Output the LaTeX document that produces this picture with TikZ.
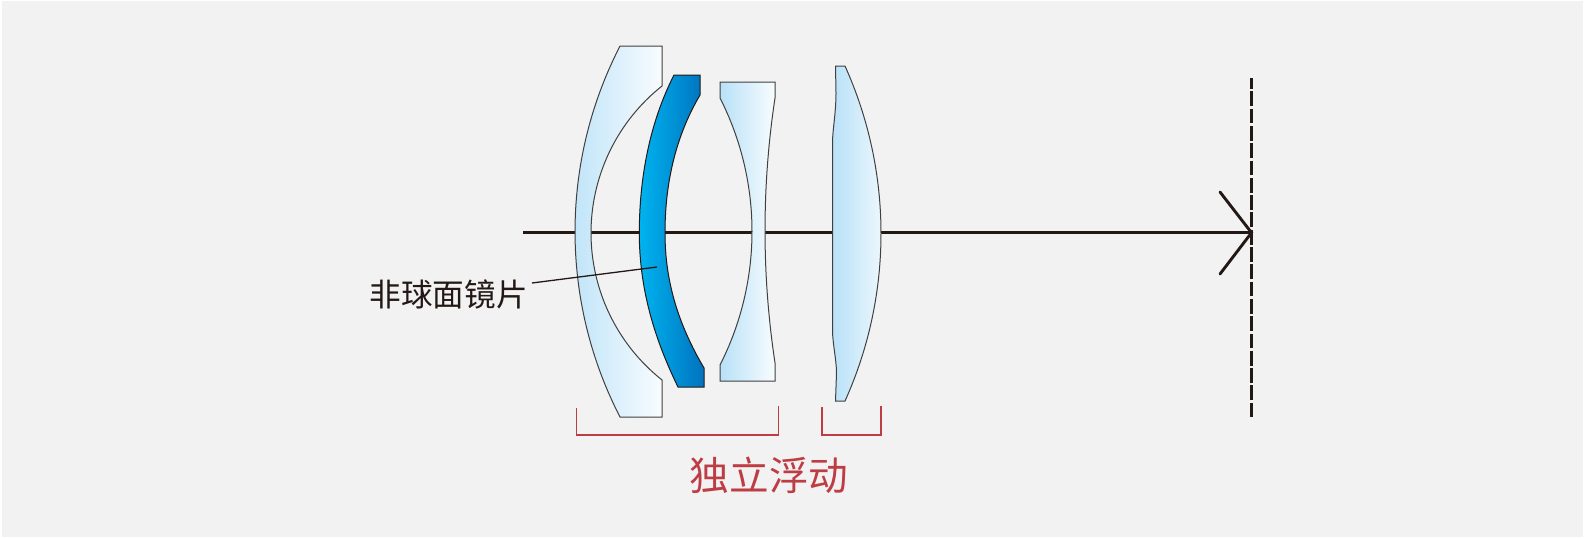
\documentclass[tikz,border=0pt]{standalone}
\usepackage{fontspec}
\newfontfamily\cjk{Noto Sans CJK SC}
\definecolor{bgGray}{HTML}{F2F2F2}
\definecolor{inkDark}{HTML}{231815}
\definecolor{markRed}{HTML}{BE3C44}
\definecolor{glassL}{HTML}{B8E1F8}
\definecolor{glassR}{HTML}{F8FCFE}
\definecolor{asphL}{HTML}{00B4F0}
\definecolor{asphM}{HTML}{009FE3}
\definecolor{asphR}{HTML}{0073BE}
\tikzset{
  glass/.style={draw=black!75,line width=0.5pt,left color=glassL,right color=glassR},
  asph/.style={draw=inkDark,line width=0.5pt,left color=asphL,middle color=asphM,right color=asphR},
  axisline/.style={draw=inkDark,line width=1.45pt},
  bracket/.style={draw=markRed,line width=0.9pt}
}
\begin{document}
\begin{tikzpicture}[x=0.5pt,y=0.5pt,line cap=butt,line join=miter]
  \useasboundingbox (0,0) rectangle (1584,538);
  \fill[white] (0,0) rectangle (1584,538);
  \fill[bgGray] (2,1) rectangle (1583,537);
  \coordinate (AxisL) at (523,305.3);
  \coordinate (Focus) at (1251.5,305.3);
  \coordinate (WingU) at (1220,346);
  \coordinate (WingD) at (1220,264);
  \coordinate (PlaneT) at (1251.5,460);
  \coordinate (PlaneB) at (1251.5,121);
  \draw[axisline] (AxisL) -- (Focus);
  \draw[axisline,line cap=round] (WingU) -- (Focus) -- (WingD);
  \draw[inkDark,line width=1.4pt,dash pattern=on 7.4pt off 1.25pt,dash phase=2pt] (PlaneT) -- (PlaneB);
  % front meniscus
  \path[glass] (620,492) -- (662,492) -- (662,452)
    arc[start angle=128.45, end angle=231.55, radius=187.7]
    -- (662,121) -- (620,121)
    arc[start angle=207.27, end angle=152.73, radius=404.8] -- cycle;
  % aspherical element
  \path[asph] (674,463) -- (700,463) -- (700,443)
    .. controls (674,399) and (665,351) .. (665,305)
    .. controls (665,257) and (678,214) .. (704,170)
    -- (704,151) -- (678,151)
    .. controls (654,200) and (639.3,250) .. (639.3,305)
    .. controls (639.3,361) and (650,416) .. (674,463) -- cycle;
  % middle element
  \path[glass] (720,456) -- (775,456) -- (775,440)
    arc[start angle=171.37, end angle=188.63, radius=882.8]
    -- (775,157) -- (720,157) -- (720,173)
    arc[start angle=-26.96, end angle=26.96, radius=294.5] -- cycle;
  % rear element
  \path[glass] (835.5,472) -- (845,472)
    arc[start angle=24.26, end angle=-24.26, radius=407.7]
    -- (835.5,137) -- (836.5,165) .. controls (836.5,178) and (832.5,195) .. (832.5,208)
    -- (832.5,395) .. controls (832.5,408) and (836,425) .. (836,445) -- cycle;
  % leader
  \node[inkDark,font=\cjk\fontsize{15.8pt}{15.8pt}\selectfont,anchor=east,inner sep=0pt] (asphLabel) at (528,244) {非球面镜片};
  \coordinate (LeadA) at (532,255);
  \coordinate (LeadB) at (657,271);
  \draw[inkDark,line width=0.65pt] (LeadA) -- (LeadB);
  % brackets
  \draw[bracket] (576.5,130) -- (576.5,103) -- (778.5,103) -- (778.5,132);
  \draw[bracket] (822,131) -- (822,103) -- (881,103) -- (881,132);
  \node[markRed,font=\cjk\fontsize{19.8pt}{19.8pt}\selectfont,anchor=center,inner sep=0pt] (floatLabel) at (769,63) {独立浮动};
\end{tikzpicture}
\end{document}
